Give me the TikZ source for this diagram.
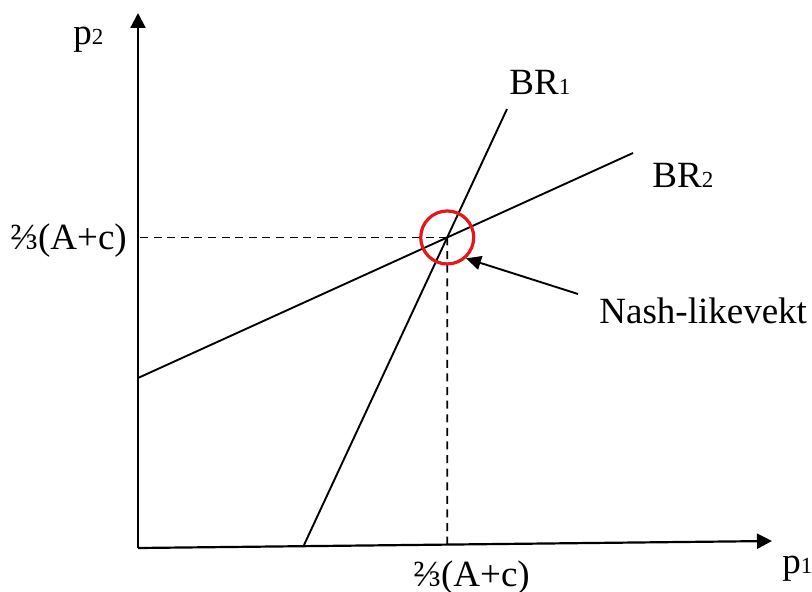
\documentclass[tikz,border=0pt]{standalone}
\usepackage{fontspec}
\setmainfont{Liberation Serif}
\usepackage{tikz}
\usetikzlibrary{arrows.meta, positioning, calc}
\definecolor{eqred}{HTML}{E8161B}
\definecolor{darkgray}{HTML}{000000}
\newcommand{\idx}[1]{{\fontsize{11.5pt}{12pt}\selectfont #1}}
\tikzset{
  axis/.style={line width=1.1pt, color=darkgray, -{Triangle[length=7.5pt, width=7.5pt]}},
  brline/.style={line width=0.95pt},
  guide/.style={line width=0.9pt, dash pattern=on 4pt off 2.8pt},
  ring/.style={circle, draw=eqred, line width=1.6pt, minimum size=26.5pt, inner sep=0pt},
  pointer/.style={line width=0.95pt, -{Triangle[length=7.5pt, width=7pt]}},
  lbl/.style={anchor=base west, inner sep=0pt, font=\fontsize{18.5pt}{22pt}\selectfont},
}

\begin{document}
\begin{tikzpicture}[x=0.5pt, y=-0.5pt]
  \useasboundingbox (0,0) rectangle (812,592);

  \coordinate (O) at (138,548);
  \coordinate (ytip) at (138,13);
  \coordinate (xtip) at (772,541);
  \coordinate (br1a) at (304,545);
  \coordinate (br1b) at (507,109);
  \coordinate (br2a) at (138,378);
  \coordinate (br2b) at (633,153);
  \coordinate (eq) at (intersection of br1a--br1b and br2a--br2b);
  \coordinate (eqdown) at (eq |- O);
  \coordinate (foot) at (intersection of eq--eqdown and O--xtip);
  \coordinate (tail) at (578,294);

  % axes
  \draw[axis] (O) -- (ytip);
  \draw[axis] (O) -- (xtip);

  % best responses
  \draw[brline] (br1a) -- (br1b);
  \draw[brline] (br2a) -- (br2b);

  \draw[guide] (eq) -- (eq -| O);
  \draw[guide] (eq) -- (foot);

  \node[ring] (nash) at (eq) {};
  \draw[pointer] (tail) -- (nash.312);

  % labels
  \node[lbl] (p2lbl) at (73,45) {p\idx{2}};
  \node[lbl] (p1lbl) at (782,573) {p\idx{1}};
  \node[lbl] (ylbl) at (10,250) {⅔(A+c)};
  \node[lbl] (xlbl) at (413,586) {⅔(A+c)};
  \node[lbl] (br1lbl) at (509,95) {BR\idx{1}};
  \node[lbl] (br2lbl) at (652,188) {BR\idx{2}};
  \node[lbl] (nashlbl) at (599,324) {Nash-likevekt};
\end{tikzpicture}
\end{document}
